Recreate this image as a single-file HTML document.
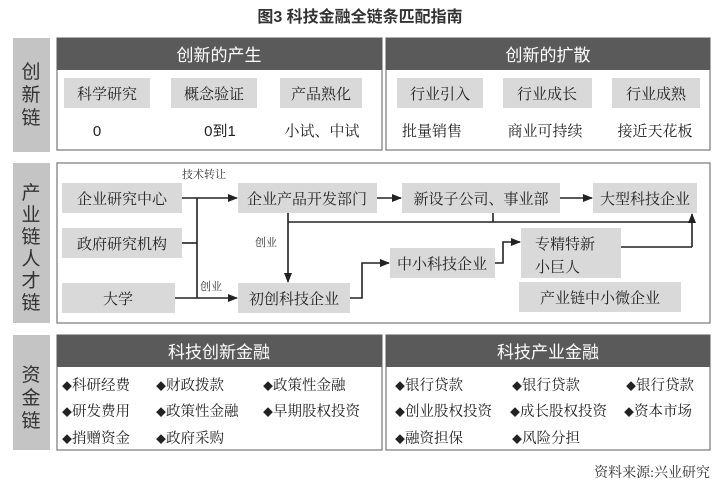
<!DOCTYPE html>
<html><head><meta charset="utf-8"><style>
html,body{margin:0;padding:0;background:#fff;}
svg{display:block;font-family:"Liberation Serif","Noto Serif CJK SC","Noto Sans CJK SC",serif;}
.s{font-family:"Liberation Sans","Noto Sans CJK SC",sans-serif;}
.d{font-size:10px;}
</style></head><body>
<svg width="720" height="491" viewBox="0 0 720 491" xmlns="http://www.w3.org/2000/svg">
<defs><marker id="a" markerWidth="10" markerHeight="8" refX="9" refY="4" orient="auto" markerUnits="userSpaceOnUse"><path d="M0,0 L10,4 L0,8 Z" fill="#222"/></marker></defs>
<text class="s" x="360" y="22" text-anchor="middle" font-size="16" font-weight="bold" fill="#333">图3 科技金融全链条匹配指南</text>

<rect x="13" y="38" width="37" height="114" fill="#c4c4c4"/>
<text class="s" x="31" y="78" text-anchor="middle" font-size="19" fill="#333">创</text>
<text class="s" x="31" y="101" text-anchor="middle" font-size="19" fill="#333">新</text>
<text class="s" x="31" y="124" text-anchor="middle" font-size="19" fill="#333">链</text>
<rect x="57" y="38" width="325" height="112" fill="#fff" stroke="#777" stroke-width="1.2"/>
<rect x="57" y="38" width="325" height="32" fill="#5a5a5a"/>
<text class="s" x="219" y="61" text-anchor="middle" font-size="17" fill="#fff">创新的产生</text>
<rect x="386" y="38" width="324" height="112" fill="#fff" stroke="#777" stroke-width="1.2"/>
<rect x="386" y="38" width="324" height="32" fill="#5a5a5a"/>
<text class="s" x="548" y="61" text-anchor="middle" font-size="17" fill="#fff">创新的扩散</text>
<g fill="#d9d9d9">
<rect x="64" y="78" width="86" height="30"/><rect x="171" y="78" width="86" height="30"/><rect x="280" y="78" width="82" height="30"/>
<rect x="397" y="78" width="86" height="30"/><rect x="503" y="78" width="89" height="30"/><rect x="612" y="78" width="88" height="30"/>
</g>
<g font-size="15" fill="#222" text-anchor="middle">
<text x="107" y="99">科学研究</text><text x="214" y="99">概念验证</text><text x="321" y="99">产品熟化</text>
<text x="440" y="99">行业引入</text><text x="547" y="99">行业成长</text><text x="656" y="99">行业成熟</text>
<text class="s" x="97" y="136">0</text><text class="s" x="220" y="136">0到1</text><text x="322" y="136">小试、中试</text>
<text x="432" y="136">批量销售</text><text x="545" y="136">商业可持续</text><text x="655" y="136">接近天花板</text>
</g>

<rect x="13" y="163" width="37" height="160" fill="#c4c4c4"/>
<g class="s" font-size="19" fill="#333" text-anchor="middle">
<text x="31" y="199">产</text><text x="31" y="221">业</text><text x="31" y="243">链</text><text x="31" y="265">人</text><text x="31" y="287">才</text><text x="31" y="309">链</text>
</g>
<rect x="57" y="163" width="653" height="160" fill="#fff" stroke="#777" stroke-width="1.2"/>
<g fill="#d9d9d9">
<rect x="62" y="183" width="120" height="30"/><rect x="62" y="228" width="120" height="30"/><rect x="62" y="283" width="113" height="30"/>
<rect x="238" y="183" width="139" height="30"/><rect x="402" y="183" width="158" height="30"/><rect x="593" y="183" width="104" height="30"/>
<rect x="238" y="283" width="112" height="30"/><rect x="390" y="248" width="105" height="30"/><rect x="521" y="228" width="100" height="50"/>
<rect x="519" y="282" width="162" height="30"/>
</g>
<g font-size="15" fill="#222">
<text x="122" y="204" text-anchor="middle">企业研究中心</text>
<text x="122" y="249" text-anchor="middle">政府研究机构</text>
<text x="118" y="304" text-anchor="middle">大学</text>
<text x="307" y="204" text-anchor="middle">企业产品开发部门</text>
<text x="481" y="204" text-anchor="middle">新设子公司、事业部</text>
<text x="645" y="204" text-anchor="middle">大型科技企业</text>
<text x="294" y="304" text-anchor="middle">初创科技企业</text>
<text x="442" y="269" text-anchor="middle">中小科技企业</text>
<text x="535" y="249">专精特新</text>
<text x="535" y="272">小巨人</text>
<text x="600" y="303" text-anchor="middle">产业链中小微企业</text>
</g>
<g font-size="11" fill="#333">
<text x="182" y="178">技术转让</text>
<text x="200" y="290">创业</text>
<text x="255" y="246">创业</text>
</g>
<g stroke="#222" stroke-width="1.6" fill="none">
<line x1="182" y1="198" x2="237" y2="198" marker-end="url(#a)"/>
<line x1="197" y1="198" x2="197" y2="298"/>
<line x1="182" y1="243" x2="197" y2="243"/>
<line x1="175" y1="298" x2="237" y2="298" marker-end="url(#a)"/>
<line x1="377" y1="198" x2="401" y2="198" marker-end="url(#a)"/>
<line x1="560" y1="198" x2="592" y2="198" marker-end="url(#a)"/>
<line x1="288" y1="213" x2="288" y2="282" marker-end="url(#a)"/>
<line x1="288" y1="222" x2="692" y2="222"/>
<line x1="493" y1="213" x2="493" y2="222"/>
<line x1="692" y1="247" x2="692" y2="214" marker-end="url(#a)"/>
<line x1="621" y1="247" x2="692" y2="247"/>
<polyline points="350,298 362,298 362,263 389,263" marker-end="url(#a)"/>
<polyline points="495,263 503,263 503,242 520,242" marker-end="url(#a)"/>
</g>

<rect x="13" y="335" width="37" height="115" fill="#c4c4c4"/>
<g class="s" font-size="19" fill="#333" text-anchor="middle">
<text x="31" y="381">资</text><text x="31" y="404">金</text><text x="31" y="427">链</text>
</g>
<rect x="57" y="335" width="325" height="115" fill="#fff" stroke="#777" stroke-width="1.2"/>
<rect x="57" y="335" width="325" height="32" fill="#5a5a5a"/>
<text class="s" x="219" y="358" text-anchor="middle" font-size="17" fill="#fff">科技创新金融</text>
<rect x="386" y="335" width="324" height="115" fill="#fff" stroke="#777" stroke-width="1.2"/>
<rect x="386" y="335" width="324" height="32" fill="#5a5a5a"/>
<text class="s" x="548" y="358" text-anchor="middle" font-size="17" fill="#fff">科技产业金融</text>
<g font-size="14.5" fill="#222">
<text x="62" y="390"><tspan class="d">◆</tspan>科研经费</text><text x="156" y="390"><tspan class="d">◆</tspan>财政拨款</text><text x="263" y="390"><tspan class="d">◆</tspan>政策性金融</text>
<text x="62" y="416"><tspan class="d">◆</tspan>研发费用</text><text x="156" y="416"><tspan class="d">◆</tspan>政策性金融</text><text x="263" y="416"><tspan class="d">◆</tspan>早期股权投资</text>
<text x="62" y="443"><tspan class="d">◆</tspan>捎赠资金</text><text x="156" y="443"><tspan class="d">◆</tspan>政府采购</text>
<text x="395" y="390"><tspan class="d">◆</tspan>银行贷款</text><text x="512" y="390"><tspan class="d">◆</tspan>银行贷款</text><text x="626" y="390"><tspan class="d">◆</tspan>银行贷款</text>
<text x="395" y="416"><tspan class="d">◆</tspan>创业股权投资</text><text x="510" y="416"><tspan class="d">◆</tspan>成长股权投资</text><text x="624" y="416"><tspan class="d">◆</tspan>资本市场</text>
<text x="395" y="443"><tspan class="d">◆</tspan>融资担保</text><text x="512" y="443"><tspan class="d">◆</tspan>风险分担</text>
</g>
<text x="710" y="477" text-anchor="end" font-size="14" fill="#333">资料来源:兴业研究</text>
</svg>
</body></html>
